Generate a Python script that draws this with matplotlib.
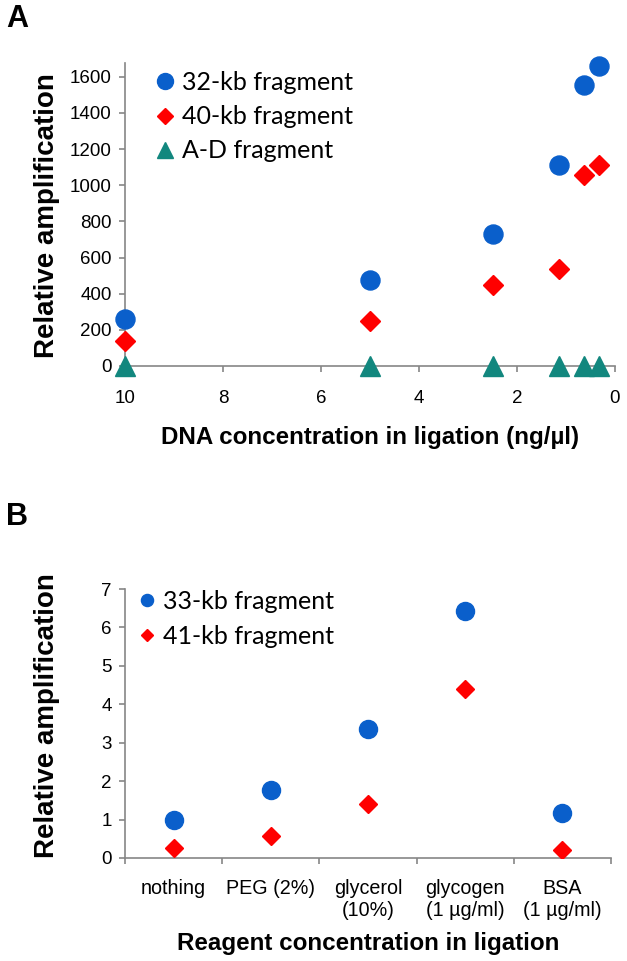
import matplotlib
matplotlib.use("Agg")
import matplotlib.pyplot as plt
import numpy as np

plt.rcParams["font.family"] = ["Liberation Sans", "DejaVu Sans"]

# panel A data
dna_conc = [10, 5, 2.5, 1.15, 0.63, 0.32]
frag32 = [260, 473, 728, 1112, 1556, 1660]
frag40 = [140, 248, 450, 536, 1057, 1112]
frag_ad = [0, 0, 0, 0, 0, 0]

# panel B data
reagents = ["nothing", "PEG (2%)", "glycerol\n(10%)", "glycogen\n(1 µg/ml)", "BSA\n(1 µg/ml)"]
frag33 = [1.0, 1.77, 3.36, 6.42, 1.18]
frag41 = [0.27, 0.56, 1.41, 4.40, 0.20]

blue = "#0A5FCB"
red = "#FF0000"
teal = "#12877E"
axis_gray = "#868686"

W, H = 627, 961
fig = plt.figure(figsize=(W / 100, H / 100), dpi=100)

def px_axes(left, top, right, bottom):
    return fig.add_axes([left / W, 1 - bottom / H, (right - left) / W, (bottom - top) / H])

leg_font = dict(family=["Lato", "DejaVu Sans"], size=18)

def style(ax, xpad):
    for s in ["top", "right"]:
        ax.spines[s].set_visible(False)
    for s in ["left", "bottom"]:
        ax.spines[s].set_color(axis_gray)
        ax.spines[s].set_linewidth(1.2)
    ax.tick_params(axis="both", which="both", color=axis_gray, labelcolor="black", length=4.5,
                   width=1.2, direction="out", labelsize=13.5)
    ax.tick_params(axis="x", pad=xpad)
    ax.tick_params(axis="y", pad=5)

# ---- panel A
axA = px_axes(125, 63, 615, 366)
axA.plot(dna_conc, frag32, "o", color=blue, ms=13.7, mec=blue, label="32-kb fragment", clip_on=False, zorder=3)
axA.plot(dna_conc, frag40, "D", color=red, ms=9.7, mec=red, label="40-kb fragment", clip_on=False, zorder=3)
axA.plot(dna_conc, frag_ad, "^", color=teal, ms=14, mec=teal, label="A-D fragment", clip_on=False, zorder=4)
axA.set_xlim(10, 0)
axA.set_ylim(0, 1676)
axA.set_xticks(np.arange(10, -1, -2))
axA.set_yticks(np.arange(0, 1601, 200))
style(axA, 12.5)
axA.legend(loc="upper left", bbox_to_anchor=(157 / W, 1 - 71 / H), bbox_transform=fig.transFigure,
           frameon=False, prop=leg_font, numpoints=1, handlelength=0.6, handletextpad=0.42,
           labelspacing=0.45, borderpad=0, borderaxespad=0, markerscale=0.84)

fig.text(17 / W, 1 - 19 / H, "A", fontsize=22, fontweight="bold", ha="center", va="center")
fig.text(47 / W, 1 - 216 / H, "Relative amplification", rotation=90, fontsize=20, fontweight="bold",
         ha="center", va="center")
fig.text(370 / W, 1 - 444 / H, "DNA concentration in ligation (ng/µl)", fontsize=17.4, fontweight="bold",
         ha="center", va="baseline")

# ---- panel B
axB = px_axes(125, 589, 611, 858)
xpos = np.arange(len(reagents))
axB.plot(xpos, frag33, "o", color=blue, ms=13, mec=blue, label="33-kb fragment", zorder=3)
axB.plot(xpos, frag41, "D", color=red, ms=9.5, mec=red, label="41-kb fragment", zorder=3)
axB.set_xlim(-0.5, len(reagents) - 0.5)
axB.set_ylim(0, 7)
axB.set_yticks(np.arange(0, 8, 1))
axB.set_xticks(np.arange(-0.5, len(reagents), 1))
axB.set_xticklabels([])
axB.set_xticks(xpos, minor=True)
axB.set_xticklabels(reagents, minor=True)
style(axB, 11)
axB.tick_params(axis="x", which="minor", length=0, pad=15, labelsize=14.2)
axB.legend(loc="upper left", bbox_to_anchor=(141 / W, 1 - 590 / H), bbox_transform=fig.transFigure,
           frameon=False, prop=leg_font, numpoints=1, handlelength=0.45, handletextpad=0.42,
           labelspacing=0.48, borderpad=0, borderaxespad=0, markerscale=0.67)

fig.text(17 / W, 1 - 517 / H, "B", fontsize=22, fontweight="bold", ha="center", va="center")
fig.text(47 / W, 1 - 716 / H, "Relative amplification", rotation=90, fontsize=20, fontweight="bold",
         ha="center", va="center")
fig.text(368 / W, 1 - 950 / H, "Reagent concentration in ligation", fontsize=17.4, fontweight="bold",
         ha="center", va="baseline")

fig.savefig("out.png", dpi=100)
